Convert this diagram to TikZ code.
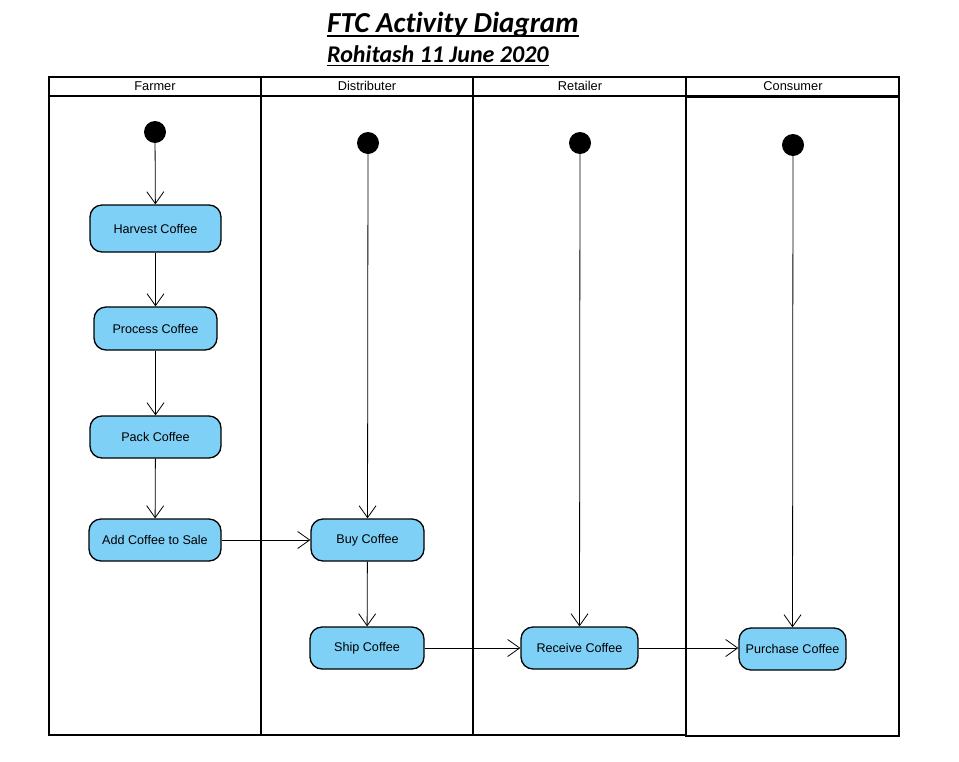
\documentclass[tikz,border=0pt]{standalone}
\usepackage{fontspec}
\setmainfont{Liberation Sans}
\newfontfamily\titlefont[Ligatures=NoCommon]{Carlito}
\usetikzlibrary{arrows.meta}
\definecolor{actfill}{RGB}{126,208,246}
\begin{document}
\begin{tikzpicture}[x=1pt,y=-1pt,
  act/.style={draw=black, line width=1.3pt, fill=actfill, rounded corners=12pt, font=\fontsize{12.6}{14}\selectfont, inner sep=0pt, minimum height=42pt},
  start/.style={circle, fill=black, minimum size=22pt, inner sep=0pt},
  flow/.style={draw=black, line width=0.8pt, -{Straight Barb[length=12pt,width=17pt,line width=0.8pt]}},
  lane/.style={draw=black, line width=1.8pt},
  hdr/.style={font=\fontsize{12.8}{14}\selectfont},
  ttl/.style={inner sep=0pt, anchor=base west},
  uline/.style={line width=1.8pt}]
\useasboundingbox (0,0) rectangle (959,761);
\fill[white] (0,0) rectangle (959,761);
% title
\node[ttl, font=\titlefont\bfseries\itshape\fontsize{29}{32}\selectfont] (title) at (327,32) {FTC Activity Diagram};
\node[ttl, font=\titlefont\bfseries\itshape\fontsize{24}{28}\selectfont] (sub) at (327,62) {Rohitash 11 June 2020};
\draw[uline] ([yshift=-4pt]title.base west) -- ([yshift=-4pt]title.base east);
\draw[uline] ([yshift=-3.5pt]sub.base west) -- ([yshift=-3.5pt]sub.base east);
% lanes
\draw[lane] (49,77) rectangle (686,735);
\draw[lane] (49,96) -- (686,96);
\draw[lane] (261,77) -- (261,735);
\draw[lane] (473,77) -- (473,735);
\draw[lane] (686,77) rectangle (899,96);
\draw[lane] (686,97) rectangle (899,736);
\node[hdr] (h1) at (155,86) {Farmer};
\node[hdr] (h2) at (367,86) {Distributer};
\node[hdr] (h3) at (580,86) {Retailer};
\node[hdr] (h4) at (793,86) {Consumer};
% initial nodes
\node[start] (s1) at (155,132) {};
\node[start] (s2) at (368,143) {};
\node[start] (s3) at (580,143) {};
\node[start] (s4) at (793,145) {};
% activities
\node[act, minimum width=131pt, minimum height=47pt] (harvest) at (155.5,228.5) {Harvest Coffee};
\node[act, minimum width=123pt, minimum height=43pt] (process) at (155.5,328.5) {Process Coffee};
\node[act, minimum width=131pt] (pack) at (155.5,437) {Pack Coffee};
\node[act, minimum width=132pt] (add) at (155,540) {Add Coffee to Sale};
\node[act, minimum width=113pt] (buy) at (367.5,540) {Buy Coffee};
\node[act, minimum width=114pt] (ship) at (367,648) {Ship Coffee};
\node[act, minimum width=117pt] (receive) at (579.5,648) {Receive Coffee};
\node[act, minimum width=107pt] (purchase) at (792.5,649) {Purchase Coffee};
% flows
\draw[flow] (s1) -- (harvest);
\draw[flow] (harvest) -- (process);
\draw[flow] (process) -- (pack);
\draw[flow] (pack) -- (add);
\draw[flow] (add) -- (buy);
\draw[flow] (s2) -- (buy);
\draw[flow] (buy) -- (ship);
\draw[flow] (ship) -- (receive);
\draw[flow] (s3) -- (receive);
\draw[flow] (receive.east) -- (purchase.west |- receive.east);
\draw[flow] (s4) -- (purchase);
\end{tikzpicture}
\end{document}
